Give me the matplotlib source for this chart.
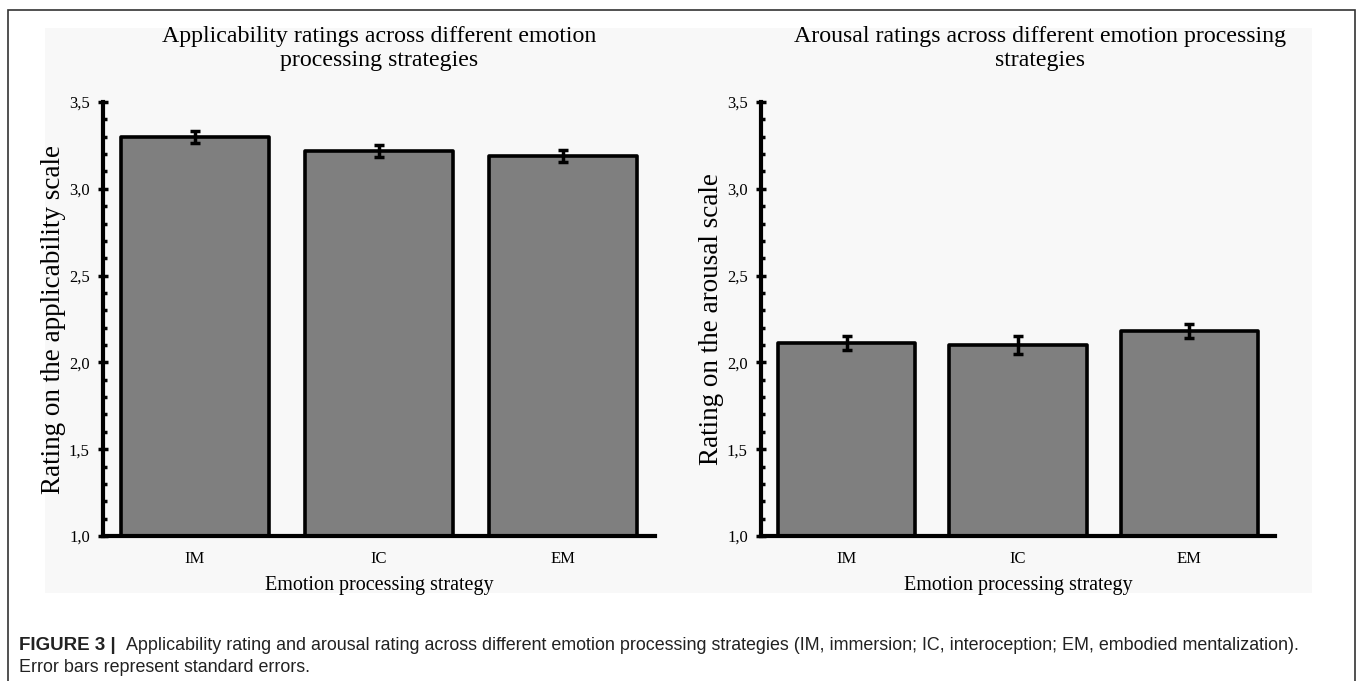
import numpy as np
import matplotlib
matplotlib.use("Agg")
import matplotlib.pyplot as plt
from matplotlib.patches import Rectangle
from matplotlib.ticker import MultipleLocator, FuncFormatter

# data
strategies = ["IM", "IC", "EM"]
applicability = [3.30, 3.22, 3.19]
applicability_se = [0.035, 0.035, 0.033]
arousal = [2.11, 2.10, 2.18]
arousal_se = [0.04, 0.05, 0.04]

titles = ["Applicability ratings across different emotion\nprocessing strategies",
          "Arousal ratings across different emotion processing\nstrategies"]
ylabels = ["Rating on the applicability scale", "Rating on the arousal scale"]
xlabel = "Emotion processing strategy"

W, H = 1358, 681
fig = plt.figure(figsize=(W / 100, H / 100), dpi=100)
fig.patch.set_facecolor("white")

# outer frame and grey panel
fig.add_artist(Rectangle((8 / W, -0.01), 1347 / W, 671 / H + 0.01, transform=fig.transFigure,
                         fill=False, edgecolor="#333333", lw=1.2))
fig.add_artist(Rectangle((45 / W, 1 - 593 / H), 1267 / W, 565 / H, transform=fig.transFigure,
                         facecolor="#f8f8f8", edgecolor="none", zorder=0))

serif = "Liberation Serif"


def fmt(v, pos):
    return ("%.1f" % v).replace(".", ",")


def panel(rect, values, errs, title, ylabel, title_x):
    x0, x1, y0, y1 = rect
    ax = fig.add_axes([x0 / W, 1 - y1 / H, (x1 - x0) / W, (y1 - y0) / H])
    ax.set_facecolor("none")
    x = np.arange(len(strategies))
    ax.bar(x, np.array(values) - 1.0, bottom=1.0, width=0.8, color="#7f7f7f",
           edgecolor="black", linewidth=2.6, joinstyle="round", zorder=2)
    ax.errorbar(x, values, yerr=errs, fmt="none", ecolor="black", elinewidth=2.5,
                capsize=3.8, capthick=2.5, zorder=3)
    ax.set_xlim(-0.5, 2.5)
    ax.set_ylim(1.0, 3.5)
    ax.set_xticks(x)
    ax.set_xticklabels(strategies, fontfamily=serif, fontsize=12)
    ax.yaxis.set_major_locator(MultipleLocator(0.5))
    ax.yaxis.set_minor_locator(MultipleLocator(0.1))
    ax.yaxis.set_major_formatter(FuncFormatter(fmt))
    for lab in ax.get_yticklabels():
        lab.set_fontfamily(serif)
        lab.set_fontsize(12)
    ax.tick_params(axis="x", length=0, pad=11)
    ax.tick_params(axis="y", which="major", direction="inout", length=7, width=2.5, pad=6)
    ax.tick_params(axis="y", which="minor", direction="in", length=3, width=2.5)
    for s in ["top", "right"]:
        ax.spines[s].set_visible(False)
    for s in ["left", "bottom"]:
        ax.spines[s].set_linewidth(3)
    ax.set_title(title, fontfamily=serif, fontsize=17.2, pad=26, linespacing=1.2, x=title_x)
    ax.set_ylabel(ylabel, fontfamily=serif, fontsize=19.5, labelpad=2)
    ax.set_xlabel(xlabel, fontfamily=serif, fontsize=14.5, labelpad=6)
    return ax


panel((103, 655, 102, 536), applicability, applicability_se, titles[0], ylabels[0], 0.5)
panel((761, 1275, 102, 536), arousal, arousal_se, titles[1], ylabels[1], 0.543)

# caption
fig.text(19 / W, 1 - 645 / H, "FIGURE 3 |", fontfamily="Liberation Sans", fontweight="bold",
         fontsize=13.5, va="center", color="#222222")
fig.text(126 / W, 1 - 645 / H,
         "Applicability rating and arousal rating across different emotion processing strategies "
         "(IM, immersion; IC, interoception; EM, embodied mentalization).",
         fontfamily="Liberation Sans", fontsize=12.9, va="center", color="#222222")
fig.text(19 / W, 1 - 668 / H, "Error bars represent standard errors.",
         fontfamily="Liberation Sans", fontsize=12.9, va="center", color="#222222")

fig.savefig("out.png", dpi=100)
